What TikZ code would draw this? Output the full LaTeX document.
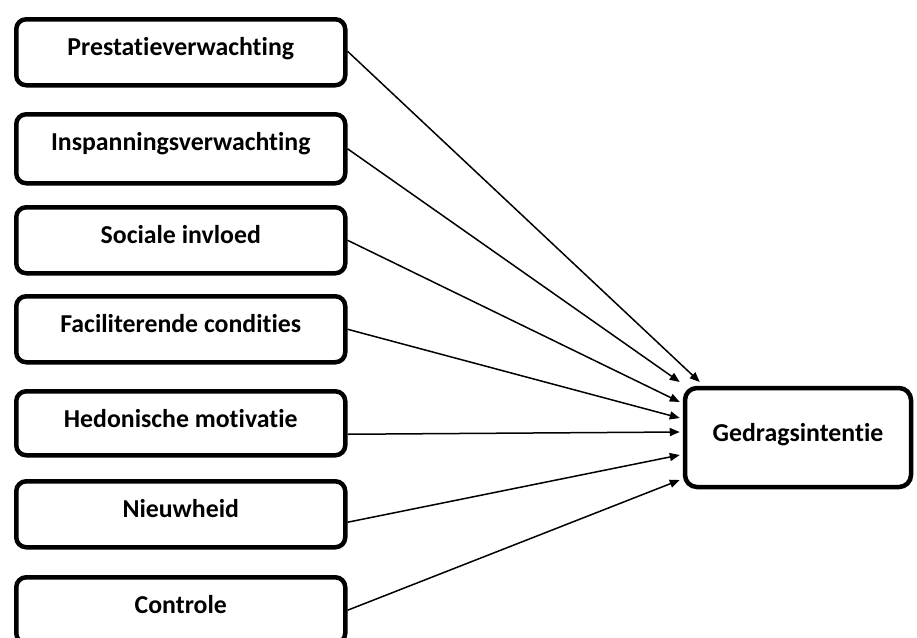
\documentclass[tikz,border=0pt]{standalone}
\usepackage{fontspec}
\setmainfont{Carlito}[RawFeature={-liga;-clig;-dlig}]
\usetikzlibrary{arrows.meta}
\begin{document}
\begin{tikzpicture}[x=1pt,y=-1pt,
  box/.style={draw=black, line width=4.5pt, rounded corners=10pt, fill=white,
    inner xsep=0pt, inner ysep=0pt, text height=36pt, text depth=#1,
    minimum width=329pt, anchor=north west,
    font=\fontsize{25.8}{30}\selectfont\bfseries},
  target/.style={draw=black, line width=4.5pt, rounded corners=12pt, fill=white,
    inner xsep=0pt, inner ysep=0pt, text height=53pt, text depth=46pt,
    minimum width=226pt,
    font=\fontsize{25.8}{30}\selectfont\bfseries},
  conn/.style={line width=1.5pt, -{Triangle[length=10pt,width=8pt]}}]
\useasboundingbox (0,0) rectangle (917,637);
\node[box=30pt] (b1) at (14,17) {Prestatieverwachting};
\node[box=33pt] (b2) at (14,112) {Inspanningsverwachting};
\node[box=30pt] (b3) at (14,205) {Sociale invloed};
\node[box=30pt] (b4) at (14,294) {Faciliterende condities};
\node[box=28pt] (b5) at (14,389) {Hedonische motivatie};
\node[box=30pt] (b6) at (14,479) {Nieuwheid};
\node[box=30pt] (b7) at (14,575) {Controle};
\node[target] (g) at (798,437.5) {Gedragsintentie};
\draw[conn] ([yshift=1pt]b1.east) -- ([xshift=17pt,yshift=55.5pt]g.west);
\draw[conn] (b2.east) -- ([xshift=-3pt,yshift=55.5pt]g.west);
\draw[conn] (b3.east) -- ([xshift=-3pt,yshift=35.5pt]g.west);
\draw[conn] (b4.east) -- ([xshift=-3pt,yshift=19.5pt]g.west);
\draw[conn] ([yshift=-11pt]b5.east) -- ([xshift=-3pt,yshift=5.5pt]g.west);
\draw[conn] ([yshift=-8pt]b6.east) -- ([xshift=-3pt,yshift=-17.5pt]g.west);
\draw[conn] (b7.east) -- ([xshift=-3pt,yshift=-42.5pt]g.west);
\end{tikzpicture}
\end{document}
